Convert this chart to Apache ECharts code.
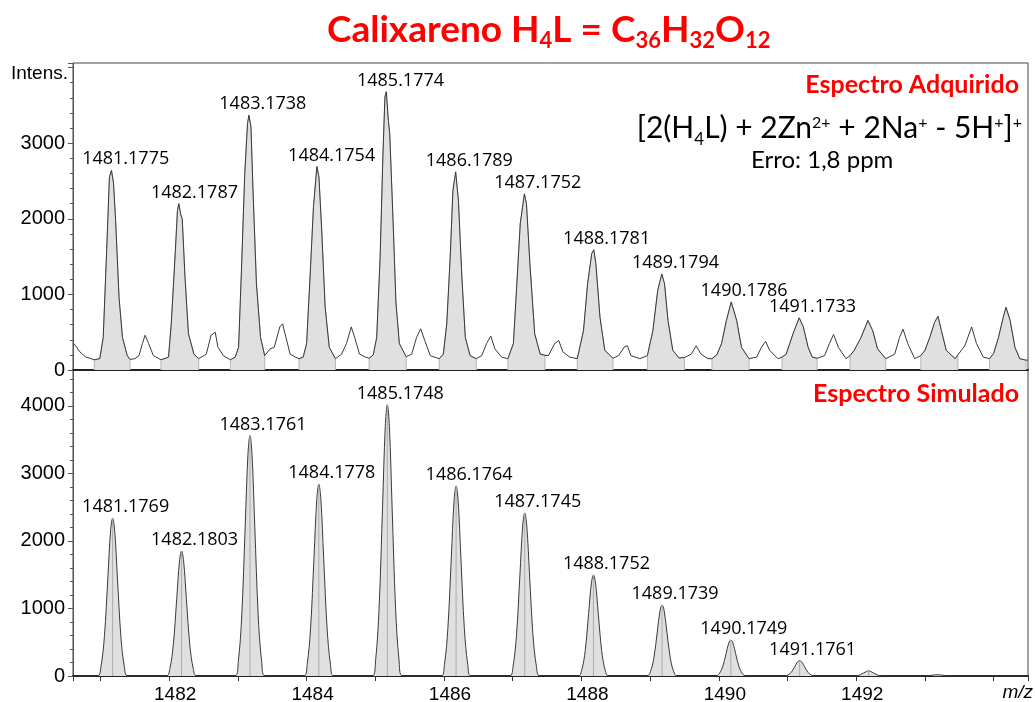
<!DOCTYPE html>
<html><head><meta charset="utf-8">
<script src="https://cdn.jsdelivr.net/npm/echarts@6/dist/echarts.min.js"></script>
<style>html,body{margin:0;padding:0;background:#fff}#c{width:1035px;height:702px}</style>
</head><body><div id="c"></div>
<script>
// ---------- DATA ----------
const acqMz = [1480.60,1480.63,1480.70,1480.78,1480.91,1480.99,1481.04,1481.09,1481.13,1481.16,1481.19,1481.22,1481.27,1481.32,1481.39,1481.43,1481.50,1481.56,1481.61,1481.65,1481.70,1481.77,1481.88,1481.99,1482.03,1482.09,1482.12,1482.14,1482.17,1482.19,1482.23,1482.28,1482.36,1482.43,1482.54,1482.61,1482.67,1482.71,1482.79,1482.89,1482.96,1483.01,1483.05,1483.10,1483.14,1483.16,1483.19,1483.22,1483.27,1483.33,1483.39,1483.47,1483.53,1483.61,1483.65,1483.70,1483.76,1483.84,1483.89,1483.95,1484.00,1484.05,1484.10,1484.15,1484.18,1484.22,1484.27,1484.33,1484.42,1484.51,1484.58,1484.65,1484.70,1484.77,1484.86,1484.91,1484.97,1485.02,1485.07,1485.11,1485.14,1485.16,1485.19,1485.21,1485.26,1485.30,1485.35,1485.45,1485.53,1485.60,1485.66,1485.72,1485.80,1485.93,1485.99,1486.04,1486.09,1486.13,1486.17,1486.21,1486.26,1486.31,1486.38,1486.47,1486.55,1486.62,1486.68,1486.74,1486.84,1486.93,1487.01,1487.06,1487.11,1487.17,1487.20,1487.25,1487.32,1487.40,1487.47,1487.52,1487.61,1487.67,1487.73,1487.83,1487.94,1488.03,1488.09,1488.15,1488.18,1488.21,1488.27,1488.34,1488.46,1488.54,1488.63,1488.67,1488.72,1488.85,1488.96,1489.04,1489.11,1489.17,1489.21,1489.26,1489.33,1489.42,1489.50,1489.60,1489.67,1489.74,1489.84,1489.90,1489.97,1490.04,1490.11,1490.18,1490.26,1490.33,1490.44,1490.55,1490.62,1490.68,1490.74,1490.86,1490.92,1490.98,1491.08,1491.17,1491.23,1491.30,1491.36,1491.43,1491.54,1491.61,1491.67,1491.74,1491.85,1491.91,1491.97,1492.07,1492.17,1492.24,1492.31,1492.43,1492.56,1492.63,1492.68,1492.75,1492.85,1492.94,1493.00,1493.07,1493.14,1493.19,1493.24,1493.31,1493.44,1493.48,1493.58,1493.68,1493.75,1493.85,1493.94,1494.00,1494.07,1494.14,1494.18,1494.24,1494.31,1494.38,1494.47,1494.50];
const acqInt = [350,330,240,175,135,150,430,1580,2550,2640,2470,1980,960,430,190,140,150,190,350,460,350,190,135,170,610,1580,2110,2200,2050,2000,1230,480,210,150,210,460,500,300,190,135,170,300,1270,2600,3260,3370,3220,2380,1140,430,190,280,300,570,610,430,210,170,150,170,350,1230,2160,2690,2550,1850,830,300,150,210,350,570,430,210,170,155,200,430,1490,2820,3610,3680,3300,3130,1940,900,350,175,210,430,545,390,190,150,210,610,1490,2380,2620,2240,1230,430,190,150,190,350,450,280,170,150,350,1140,1940,2330,2200,1410,480,210,195,190,350,390,240,170,150,520,1140,1540,1590,1410,700,260,155,190,310,320,190,150,190,520,1050,1270,1140,655,260,160,165,210,320,210,150,150,200,350,655,900,655,300,150,170,300,380,260,150,170,210,480,690,570,300,170,155,190,350,470,300,150,190,260,430,655,520,280,150,210,430,540,350,150,190,260,430,630,710,520,260,150,200,320,570,350,170,150,220,430,700,830,655,300,150,130,130];
// Integration windows (shaded) of the acquired spectrum
const fillStart = [1480.91,1481.88,1482.89,1483.89,1484.91,1485.93,1486.93,1487.94,1488.96,1489.90,1490.92,1491.91,1492.94,1493.94];
const fillEnd   = [1481.43,1482.43,1483.39,1484.42,1485.45,1486.47,1487.47,1488.46,1489.50,1490.44,1491.43,1492.43,1493.48,1494.47];
// Acquired peak annotations
const acqPeakMz  = [1481.1775,1482.1787,1483.1738,1484.1754,1485.1774,1486.1789,1487.1752,1488.1781,1489.1794,1490.1786,1491.1733];
const acqPeakInt = [2640,2200,3370,2690,3680,2620,2330,1590,1270,900,690];

// Simulated spectrum profile
const simMz = [1480.600,
 1480.957,1481.007,1481.057,1481.107,1481.147,1481.177,1481.207,1481.247,1481.297,1481.347,1481.397,
 1481.960,1482.010,1482.060,1482.110,1482.150,1482.180,1482.210,1482.250,1482.300,1482.350,1482.400,
 1482.956,1483.006,1483.056,1483.106,1483.146,1483.176,1483.206,1483.246,1483.296,1483.346,1483.396,
 1483.958,1484.008,1484.058,1484.108,1484.148,1484.178,1484.208,1484.248,1484.298,1484.348,1484.398,
 1484.955,1485.005,1485.055,1485.105,1485.145,1485.175,1485.205,1485.245,1485.295,1485.345,1485.395,
 1485.956,1486.006,1486.056,1486.106,1486.146,1486.176,1486.206,1486.246,1486.296,1486.346,1486.396,
 1486.955,1487.005,1487.055,1487.105,1487.145,1487.175,1487.205,1487.245,1487.295,1487.345,1487.395,
 1487.955,1488.005,1488.055,1488.105,1488.145,1488.175,1488.205,1488.245,1488.295,1488.345,1488.395,
 1488.954,1489.004,1489.054,1489.104,1489.144,1489.174,1489.204,1489.244,1489.294,1489.344,1489.394,
 1489.955,1490.005,1490.055,1490.105,1490.145,1490.175,1490.205,1490.245,1490.295,1490.345,1490.395,
 1490.956,1491.006,1491.056,1491.106,1491.146,1491.176,1491.206,1491.246,1491.296,1491.346,1491.396,
 1491.960,1492.010,1492.060,1492.110,1492.150,1492.180,1492.210,1492.250,1492.300,1492.350,1492.400,
 1492.960,1493.010,1493.060,1493.110,1493.150,1493.180,1493.210,1493.250,1493.300,1493.350,1493.400,
 1494.500];
const simInt = [0,
 0,140,584,1448,2149,2336,2149,1448,584,140,0,
 0,111,463,1148,1703,1851,1703,1148,463,111,0,
 0,214,890,2207,3274,3559,3274,2207,890,214,0,
 0,170,710,1760,2612,2839,2612,1760,710,170,0,
 0,241,1004,2489,3693,4014,3693,2489,1004,241,0,
 0,169,704,1745,2589,2814,2589,1745,704,169,0,
 0,145,604,1497,2221,2414,2221,1497,604,145,0,
 0,90,374,928,1376,1496,1376,928,374,90,0,
 0,63,263,652,968,1052,968,652,263,63,0,
 0,32,133,330,490,533,490,330,133,32,0,
 0,14,57,141,209,227,209,141,57,14,0,
 0,4,19,46,68,74,68,46,19,4,0,
 0,1,5,12,18,20,18,12,5,1,0,
 0];
// Simulated centroid sticks
const simStickMz  = [1481.177,1482.180,1483.176,1484.178,1485.175,1486.176,1487.175,1488.175,1489.174,1490.175,1491.176,1492.180,1493.180];
const simStickInt = [2336,1851,3559,2839,4014,2814,2414,1496,1052,533,227,74,20];
// Simulated peak annotations
const simPeakMz  = [1481.1769,1482.1803,1483.1761,1484.1778,1485.1748,1486.1764,1487.1745,1488.1752,1489.1739,1490.1749,1491.1761];
const simPeakInt = [2336,1851,3559,2839,4014,2814,2414,1496,1052,533,227];

// Axis ranges / tick labels
const mzMin = 1480.6, mzMax = 1494.5;
const xTickLabels = [1482, 1484, 1486, 1488, 1490, 1492];
const yTickLabelsTop = [0, 1000, 2000, 3000];
const yTickLabelsBottom = [0, 1000, 2000, 3000, 4000];
const yMaxTop = 4060, yMaxBottom = 4530, yInterval = 1000;

// ---------- CHART ----------
const chart = echarts.init(document.getElementById('c'), null, {renderer: 'canvas'});
const RED = '#ff0000';
const TXT = '#000000';
const AXC = '#555555';

const acqData = acqMz.map((m, i) => [m, acqInt[i]]);
const fillSeries = fillStart.map((s, k) => {
  const pts = acqData.filter(p => p[0] >= s - 1e-9 && p[0] <= fillEnd[k] + 1e-9);
  const d = [[pts[0][0], 0]].concat(pts, [[pts[pts.length - 1][0], 0]]);
  return {
    type: 'line', xAxisIndex: 0, yAxisIndex: 0, data: d, symbol: 'none', silent: true,
    lineStyle: {color: '#b5b5b5', width: 1}, areaStyle: {color: '#e0e0e0', opacity: 1}, z: 2
  };
});

const labelStyle = {
  show: true, position: 'top', distance: 2, offset: [13, 0],
  fontFamily: 'Open Sans', fontSize: 18, fontWeight: 'normal', color: '#000000', opacity: 1,
  formatter: p => p.data[2]
};

function xAxisBase(grid) {
  return {
    type: 'value', gridIndex: grid, min: mzMin, max: mzMax, splitNumber: 14,
    splitLine: {show: false}, minorTick: {show: false},
    axisLine: {show: true, onZero: false, lineStyle: {color: '#222', width: 2}}
  };
}
function yAxisBase(grid, max, labels) {
  return {
    type: 'value', gridIndex: grid, min: 0, max: max, interval: yInterval,
    splitLine: {show: false}, minorSplitLine: {show: false},
    axisLine: {show: true, lineStyle: {color: AXC, width: 1}},
    axisTick: {show: true, inside: false, length: 5, lineStyle: {color: AXC}},
    minorTick: {show: true, splitNumber: 5, length: 3, lineStyle: {color: AXC}},
    axisLabel: {
      show: true, margin: 8, fontFamily: 'Liberation Sans', fontSize: 20, color: TXT,
      showMinLabel: true, showMaxLabel: true, hideOverlap: false,
      formatter: v => labels.some(t => Math.abs(t - v) < 1e-6) ? String(v) : ''
    }
  };
}
function labelSeries(axis, mz, inten) {
  return {
    type: 'scatter', xAxisIndex: axis, yAxisIndex: axis, symbolSize: 0, silent: true,
    itemStyle: {color: '#000000', opacity: 1},
    data: mz.map((m, i) => [m, inten[i], m.toFixed(4)]), label: labelStyle,
    emphasis: {disabled: true}, z: 6
  };
}

const option = {
  animation: false,
  backgroundColor: '#ffffff',
  title: [
    {left: 327, top: 8, padding: 0,
     text: '{m|Calixareno H}{s|4}{m|L = C}{s|36}{m|H}{s|32}{m|O}{s|12}',
     textStyle: {rich: {
       m: {fontFamily: 'Lato', fontWeight: 'bold', fontSize: 37, color: RED, lineHeight: 44},
       s: {fontFamily: 'Lato', fontWeight: 'bold', fontSize: 22, color: RED, lineHeight: 12, verticalAlign: 'bottom'}
     }}},
    {right: 16, top: 70, padding: 0, text: 'Espectro Adquirido',
     textStyle: {fontFamily: 'Lato', fontWeight: 'bold', fontSize: 25, color: RED, lineHeight: 30}},
    {right: 13, top: 108, padding: 0,
     text: '{m|[2(H}{b|4}{m|L) + 2Zn}{p|2+}{m| + 2Na}{p|+}{m| - 5H}{p|+}{m|]}{p|+}',
     textStyle: {fontWeight: 'normal', rich: {
       m: {fontFamily: 'Lato', fontWeight: 'normal', fontSize: 30, color: TXT, lineHeight: 40},
       p: {fontFamily: 'Lato', fontWeight: 'normal', fontSize: 16, color: TXT, lineHeight: 18,
           padding: [7, 0, 0, 0], verticalAlign: 'top'},
       b: {fontFamily: 'Lato', fontWeight: 'normal', fontSize: 17, color: TXT, lineHeight: 20, verticalAlign: 'bottom'}
     }}},
    {left: 751, top: 147, padding: 0, text: 'Erro: 1,8 ppm',
     textStyle: {fontFamily: 'Lato', fontWeight: 'normal', fontSize: 24, color: TXT, lineHeight: 26}},
    {right: 16, top: 379, padding: 0, text: 'Espectro Simulado',
     textStyle: {fontFamily: 'Lato', fontWeight: 'bold', fontSize: 25, color: RED, lineHeight: 30}},
    {left: 11, top: 63, padding: 0, text: 'Intens.',
     textStyle: {fontFamily: 'Liberation Sans', fontWeight: 'normal', fontSize: 19, color: TXT, lineHeight: 22}},
    {right: 2, top: 682, padding: 0, text: 'm/z',
     textStyle: {fontFamily: 'Liberation Sans', fontStyle: 'italic', fontWeight: 'normal', fontSize: 19, color: TXT, lineHeight: 22}}
  ],
  grid: [
    {left: 73, right: 7, top: 63, height: 307, show: true, borderColor: '#444', borderWidth: 1,
     backgroundColor: 'transparent', containLabel: false, outerBoundsMode: 'none'},
    {left: 73, right: 7, top: 370, height: 306, show: true, borderColor: '#444', borderWidth: 1,
     backgroundColor: 'transparent', containLabel: false, outerBoundsMode: 'none'}
  ],
  xAxis: [
    Object.assign(xAxisBase(0), {axisTick: {show: false}, axisLabel: {show: false}}),
    Object.assign(xAxisBase(1), {
      axisTick: {show: true, inside: false, length: 5, lineStyle: {color: '#333'}},
      axisLabel: {show: true, margin: 9, fontFamily: 'Liberation Sans', fontSize: 19, color: TXT,
        padding: [0, 0, 0, 12], hideOverlap: false,
        formatter: v => xTickLabels.some(t => Math.abs(t - v) < 1e-6) ? String(Math.round(v)) : ''}
    })
  ],
  yAxis: [yAxisBase(0, yMaxTop, yTickLabelsTop), yAxisBase(1, yMaxBottom, yTickLabelsBottom)],
  series: fillSeries.concat([
    {type: 'line', xAxisIndex: 0, yAxisIndex: 0, data: acqData, symbol: 'none', silent: true,
     lineStyle: {color: '#3a3a3a', width: 1}, z: 4},
    labelSeries(0, acqPeakMz, acqPeakInt),
    {type: 'line', xAxisIndex: 1, yAxisIndex: 1, data: simMz.map((m, i) => [m, simInt[i]]),
     symbol: 'none', silent: true, smooth: 0.35,
     lineStyle: {color: '#3a3a3a', width: 1}, areaStyle: {color: '#e0e0e0', opacity: 1}, z: 4},
    {type: 'bar', xAxisIndex: 1, yAxisIndex: 1, barWidth: 1, silent: true,
     data: simStickMz.map((m, i) => [m, simStickInt[i]]), itemStyle: {color: '#ababab'}, z: 5},
    labelSeries(1, simPeakMz, simPeakInt)
  ])
};
chart.setOption(option);
</script></body></html>
